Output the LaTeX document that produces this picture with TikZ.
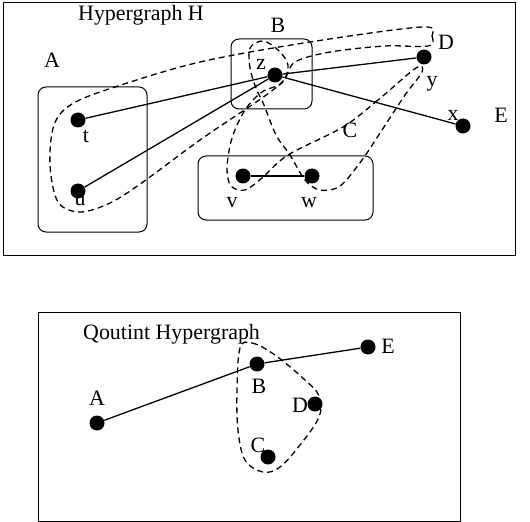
\documentclass[tikz,border=0pt]{standalone}
\usepackage{fontspec}
\setmainfont{Liberation Serif}
\begin{document}
\begin{tikzpicture}[
    x=1bp, y=-1bp,
    vertex/.style={circle, fill=black, inner sep=0pt, minimum size=15bp},
    lbl/.style={inner sep=0pt, anchor=base, font=\fontsize{22}{26}\selectfont},
    part/.style={draw, rounded corners=8bp, line width=1bp},
    frame/.style={draw, line width=1bp},
    edge/.style={line width=1.3bp},
    hyper/.style={line width=1.3bp, dash pattern=on 6bp off 4bp}
]
\useasboundingbox (0,0) rectangle (530,522);

% Hypergraph H
\draw[frame] (3,3) rectangle (515,255);
\node[lbl, anchor=base west] (titleH) at (78,21) {Hypergraph H};

% Parts
\draw[part] (38,87) rectangle (147,232);
\draw[part] (231,39) rectangle (312,109);
\draw[part] (198,156) rectangle (373,220);
\node[lbl] (partA) at (52,68) {A};
\node[lbl] (partB) at (278,33) {B};
\node[lbl] (partC) at (350,138) {C};
\node[lbl] (partD) at (446,50) {D};
\node[lbl] (partE) at (501,123) {E};

% Hyperedges
\draw[hyper] plot[smooth cycle, tension=0.55] coordinates {
    (422,27) (432,36) (428,46) (385,46) (330,52) (295,62) (284,80)
    (262,98) (200,140) (143,182) (110,203) (80,212) (58,202) (50,165)
    (54,125) (72,104) (115,87) (200,62) (310,42)};
\draw[hyper] plot[smooth cycle, tension=0.55] coordinates {
    (416,68) (378,100) (343,127) (288,155) (262,178) (245,190) (231,186)
    (227,168) (232,138) (245,110) (262,92) (282,83) (288,65) (278,50)
    (263,41) (250,48) (250,68) (256,88) (264,105) (276,135) (290,155)
    (305,180) (320,190) (340,186) (362,160) (382,130) (405,95) (422,72)};

% Vertices
\node[vertex] (t) at (78,120) {};
\node[vertex] (u) at (78,191) {};
\node[vertex] (z) at (275,75) {};
\node[vertex] (y) at (424,57) {};
\node[vertex] (x) at (463,126) {};
\node[vertex] (v) at (243,176) {};
\node[vertex] (w) at (312,176) {};
\node[lbl] (tlab) at (86,143) {t};
\node[lbl] (ulab) at (80,206) {u};
\node[lbl] (zlab) at (261,70) {z};
\node[lbl] (ylab) at (432,87) {y};
\node[lbl] (xlab) at (453,121) {x};
\node[lbl] (vlab) at (232,208) {v};
\node[lbl] (wlab) at (309,208) {w};

% Edges
\draw[edge] (t) -- (z);
\draw[edge] (u) -- (z);
\draw[edge] (z) -- (y);
\draw[edge] (z) -- (x);
\draw[edge] (v) -- (w);

% Quotient hypergraph
\draw[frame] (38,312) rectangle (460,521);
\node[lbl, anchor=base west] (titleQ) at (83,339) {Qoutint Hypergraph};

\draw[hyper] plot[smooth cycle, tension=0.6] coordinates {
    (240,348) (252,343) (275,355) (305,380) (319,396) (319,417) (300,445)
    (280,467) (263,472) (245,460) (238,430) (237,390)};

\node[vertex] (qA) at (97,423) {};
\node[vertex] (qB) at (257,364) {};
\node[vertex] (qE) at (368,347) {};
\node[vertex] (qD) at (315,404) {};
\node[vertex] (qC) at (268,457) {};
\node[lbl] (qAlab) at (97,405) {A};
\node[lbl] (qBlab) at (259,393) {B};
\node[lbl] (qDlab) at (300,412) {D};
\node[lbl] (qClab) at (258,452) {C};
\node[lbl] (qElab) at (388,353) {E};

\draw[edge] (qA) -- (qB);
\draw[edge] (qB) -- (qE);
\end{tikzpicture}
\end{document}
